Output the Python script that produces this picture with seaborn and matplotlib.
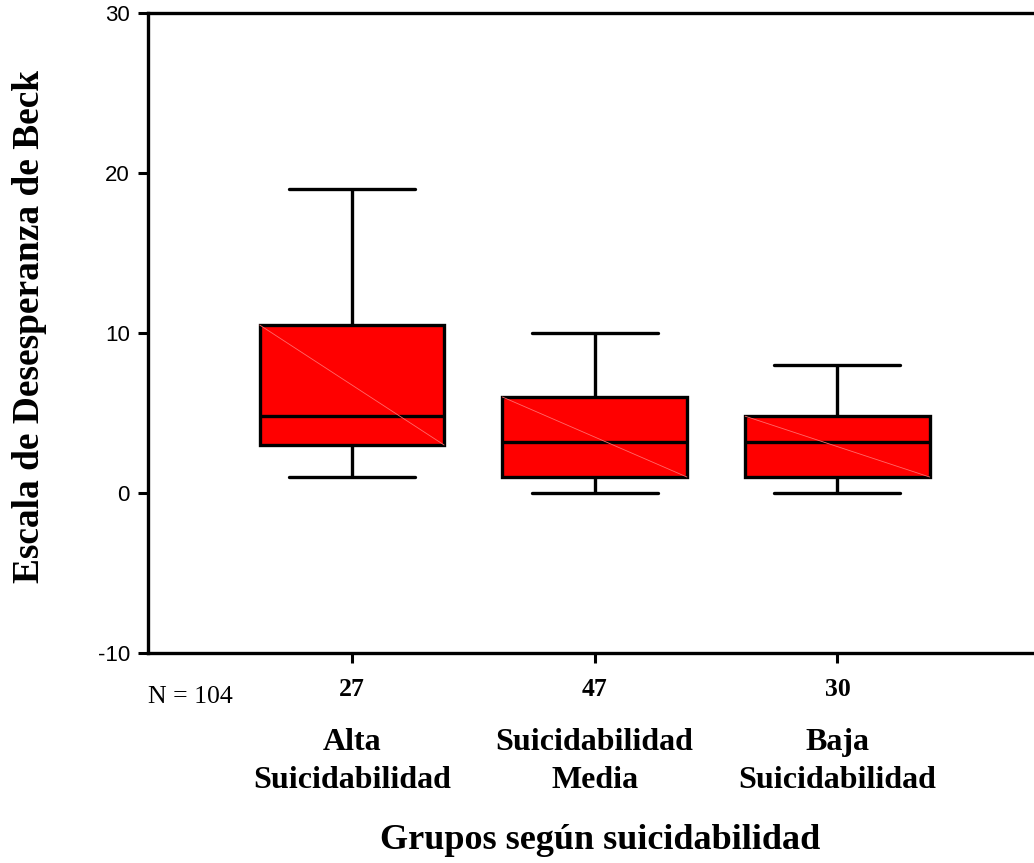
import numpy as np
import pandas as pd
import matplotlib
matplotlib.use("Agg")
import matplotlib.pyplot as plt
import seaborn as sns

# ---- data (five-number summaries) ----
grupos = ["Alta\nSuicidabilidad", "Suicidabilidad\nMedia", "Baja\nSuicidabilidad"]
n_grupo = ["27", "47", "30"]
minimos = [1.0, 0.0, 0.0]
q1s = [3.0, 1.0, 1.0]
medianas = [4.8, 3.2, 3.2]
q3s = [10.5, 6.0, 4.8]
maximos = [19.0, 10.0, 8.0]
y_ticks = [-10, 0, 10, 20, 30]
n_total = "N = 104"
y_label = "Escala de Desesperanza de Beck"
x_label = "Grupos según suicidabilidad"

rows = []
for g, a, b, c, d, e in zip(grupos, minimos, q1s, medianas, q3s, maximos):
    for v in (a, b, c, d, e):
        rows.append({"grupo": g, "valor": v})
df = pd.DataFrame(rows)

sns.set_theme(style="white")
plt.rcParams["font.family"] = ["Liberation Serif", "DejaVu Serif"]
plt.rcParams["text.color"] = "black"
plt.rcParams["xtick.color"] = "black"
plt.rcParams["ytick.color"] = "black"

fig = plt.figure(figsize=(10.34, 8.63), dpi=100)
ax = fig.add_axes([148 / 1034, 1 - 653 / 863, 1 - 148 / 1034, (653 - 13) / 863])

box_w = 0.76
sns.boxplot(data=df, x="grupo", y="valor", order=grupos, color="#ff0000",
            saturation=1, width=box_w, whis=np.inf, linecolor="black",
            linewidth=2.4, showfliers=False, ax=ax)

# widen the whisker caps to match the original
for ln in ax.lines:
    xd = np.asarray(ln.get_xdata(), dtype=float)
    yd = np.asarray(ln.get_ydata(), dtype=float)
    if len(xd) == 2 and yd[0] == yd[1]:
        w = abs(xd[1] - xd[0])
        if 0 < w < 0.7 * box_w:
            c = xd.mean()
            ln.set_xdata([c - 0.26, c + 0.26])

# faint diagonal inside each box (rendering artefact of the original)
for p in ax.patches:
    verts = p.get_path().vertices
    tv = p.get_transform().transform(verts)
    dv = ax.transData.inverted().transform(tv)
    x0, x1 = dv[:, 0].min(), dv[:, 0].max()
    y0, y1 = dv[:, 1].min(), dv[:, 1].max()
    ax.plot([x0, x1], [y1, y0], color="#ff6a6a", lw=0.6, zorder=3)

ax.set_xlim(-0.84, 2.81)
ax.set_ylim(-10, 30)
ax.set_yticks(y_ticks)
ax.set_yticklabels([str(t) for t in y_ticks], family="Liberation Sans", fontsize=16)
ax.set_xticks(range(len(grupos)))
ax.set_xticklabels(n_grupo, fontsize=18.5, fontweight="bold")
ax.tick_params(axis="both", direction="out", length=7, width=2.2, color="black",
               left=True, bottom=True, pad=6)
ax.tick_params(axis="x", pad=11)
ax.set_xlabel("")
ax.set_ylabel("")

for s in ["left", "bottom", "top"]:
    ax.spines[s].set_visible(True)
    ax.spines[s].set_linewidth(2.4)
    ax.spines[s].set_color("black")
ax.spines["right"].set_visible(False)

# group names below the counts (one text per line, baseline-aligned)
line_offsets = [-69.8, -97.2]  # points below the axis
for i, g in enumerate(grupos):
    for part, off in zip(g.split("\n"), line_offsets):
        ax.annotate(part, xy=(i, 0), xycoords=("data", "axes fraction"),
                    xytext=(0, off), textcoords="offset points", ha="center",
                    va="baseline", fontsize=23, fontweight="bold")

ax.annotate(n_total, xy=(0, 0), xycoords="axes fraction", xytext=(0, -36),
            textcoords="offset points", ha="left", va="baseline", fontsize=18.5)

fig.text(600 / 1034, 1 - 849 / 863, x_label, ha="center", va="baseline",
         fontsize=26, fontweight="bold")
fig.text(30 / 1034, 1 - 326 / 863, y_label, ha="center", va="center",
         rotation=90, fontsize=26.9, fontweight="bold")

fig.savefig("out.png", dpi=100)
